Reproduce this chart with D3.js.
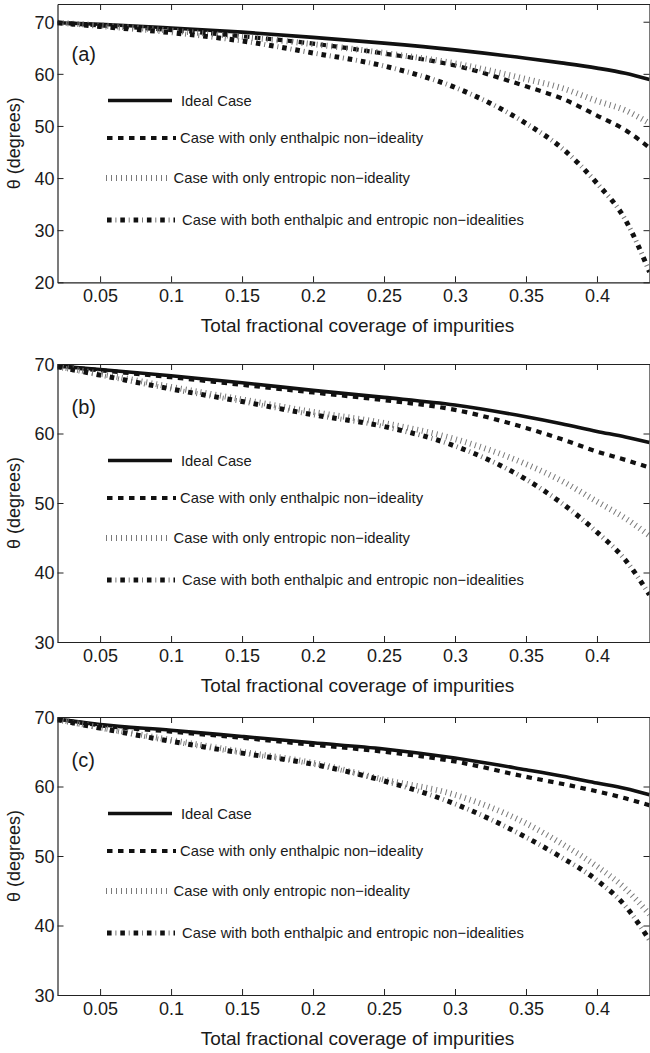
<!DOCTYPE html>
<html>
<head>
<meta charset="utf-8">
<script src="https://cdn.jsdelivr.net/npm/d3@7"></script>
<style>
  html, body { margin: 0; padding: 0; background: #fff; }
  svg { display: block; }
  text { font-family: "Liberation Sans", Arial, Helvetica, sans-serif; fill: #1a1a1a; }
</style>
</head>
<body>
<script>
// ---------------- data ----------------
const xValues = [0.02, 0.05, 0.1, 0.15, 0.2, 0.25, 0.3, 0.35, 0.375, 0.4, 0.42, 0.437];

// panel (a)
const aIdeal     = [69.8, 69.5, 68.8, 68.0, 67.0, 65.9, 64.6, 63.0, 62.1, 61.1, 60.1, 58.9];
const aEnthalpic = [69.8, 69.3, 68.4, 67.2, 65.8, 63.9, 61.6, 57.6, 55.3, 52.0, 49.2, 45.8];
const aEntropic  = [69.8, 69.3, 68.3, 67.1, 65.7, 64.0, 62.0, 59.0, 57.3, 54.8, 53.0, 50.5];
const aBoth      = [69.8, 69.1, 67.9, 66.3, 64.0, 61.5, 57.4, 50.5, 45.8, 39.0, 32.0, 22.0];

// panel (b)
const bIdeal     = [69.7, 69.2, 68.3, 67.3, 66.2, 65.2, 64.1, 62.4, 61.4, 60.3, 59.5, 58.7];
const bEnthalpic = [69.7, 69.1, 68.1, 67.0, 65.9, 64.8, 63.4, 60.8, 59.2, 57.4, 56.2, 55.1];
const bEntropic  = [69.6, 68.6, 66.7, 64.9, 63.1, 61.5, 59.2, 55.6, 53.2, 50.2, 47.8, 45.3];
const bBoth      = [69.6, 68.4, 66.4, 64.6, 62.7, 61.0, 58.2, 53.4, 50.0, 45.8, 41.8, 36.8];

// panel (c)
const cIdeal     = [69.7, 68.9, 68.1, 67.2, 66.3, 65.4, 64.1, 62.4, 61.5, 60.5, 59.7, 58.8];
const cEnthalpic = [69.7, 68.8, 67.9, 67.0, 66.0, 65.0, 63.6, 61.4, 60.4, 59.3, 58.3, 57.3];
const cEntropic  = [69.6, 68.5, 66.7, 65.0, 63.4, 61.0, 58.8, 54.7, 51.8, 48.5, 45.3, 41.6];
const cBoth      = [69.6, 68.4, 66.5, 64.8, 63.2, 60.8, 57.5, 52.7, 49.8, 46.5, 42.8, 37.9];

const seriesNames = [
  "Ideal Case",
  "Case with only enthalpic non\u2212ideality",
  "Case with only entropic non\u2212ideality",
  "Case with both enthalpic and entropic non\u2212idealities"
];
const panelLabels = ["(a)", "(b)", "(c)"];
const xTickValues = [0.05, 0.1, 0.15, 0.2, 0.25, 0.3, 0.35, 0.4];
const xTickLabels = ["0.05", "0.1", "0.15", "0.2", "0.25", "0.3", "0.35", "0.4"];
const yTicksA = [20, 30, 40, 50, 60, 70];
const yTicksBC = [30, 40, 50, 60, 70];
const xTitle = "Total fractional coverage of impurities";
const yTitle = "\u03b8 (degrees)";

// ---------------- layout ----------------
const W = 650, H = 1053;
const xLeft = 57.5, xRight = 649.5;
const xDomain = [0.02, 0.437];

const panels = [
  { label: panelLabels[0], top: 4,   bottom: 282.3, yDomain: [20, 73.4], yTicks: yTicksA,
    data: [aIdeal, aEnthalpic, aEntropic, aBoth], labelY: 53.5 },
  { label: panelLabels[1], top: 364, bottom: 642,   yDomain: [30, 70],   yTicks: yTicksBC,
    data: [bIdeal, bEnthalpic, bEntropic, bBoth], labelY: 407 },
  { label: panelLabels[2], top: 717, bottom: 995,   yDomain: [30, 70],   yTicks: yTicksBC,
    data: [cIdeal, cEnthalpic, cEntropic, cBoth], labelY: 760 }
];

const legendRows = [96.5, 134, 174, 216];       // relative to panel top
const legendLineX = [[108, 172], [107, 176], [106, 171], [107, 175]];
const legendTextX = [181, 180, 173.5, 182];

const svg = d3.select("body").append("svg")
  .attr("width", W).attr("height", H);

const x = d3.scaleLinear().domain(xDomain).range([xLeft, xRight]);

// draws one styled line (possibly two overlaid stroke paths)
function styledPath(g, kind, dAttr) {
  if (kind === 0) {
    g.append("path").attr("d", dAttr).attr("fill", "none")
      .attr("stroke", "#111").attr("stroke-width", 3.6);
  } else if (kind === 1) {
    g.append("path").attr("d", dAttr).attr("fill", "none")
      .attr("stroke", "#111").attr("stroke-width", 4.2)
      .attr("stroke-dasharray", "5.5,5.5");
  } else if (kind === 2) {
    g.append("path").attr("d", dAttr).attr("fill", "none")
      .attr("stroke", "#7a7a7a").attr("stroke-width", 6)
      .attr("stroke-dasharray", "1,4");
  } else {
    g.append("path").attr("d", dAttr).attr("fill", "none")
      .attr("stroke", "#111").attr("stroke-width", 5)
      .attr("stroke-dasharray", "4.6,8.7");
    g.append("path").attr("d", dAttr).attr("fill", "none")
      .attr("stroke", "#777").attr("stroke-width", 5)
      .attr("stroke-dasharray", "0,8.4,1,3.9");
  }
}

panels.forEach((p, pi) => {
  const y = d3.scaleLinear().domain(p.yDomain).range([p.bottom, p.top]);
  const g = svg.append("g");

  const clipId = "clip" + pi;
  svg.append("clipPath").attr("id", clipId).append("rect")
    .attr("x", xLeft).attr("y", p.top)
    .attr("width", xRight - xLeft).attr("height", p.bottom - p.top);

  // curves
  const line = d3.line()
    .x((d, i) => x(xValues[i]))
    .y(d => y(d))
    .curve(d3.curveMonotoneX);
  const cg = g.append("g").attr("clip-path", `url(#${clipId})`);
  p.data.forEach((vals, si) => styledPath(cg, si, line(vals)));

  // axes (inward ticks, MATLAB box)
  const fontAxis = 18;
  const bottomAxis = d3.axisBottom(x).tickValues(xTickValues)
    .tickFormat((d, i) => xTickLabels[i]).tickSizeInner(-6).tickSizeOuter(0).tickPadding(7);
  const topAxis = d3.axisTop(x).tickValues(xTickValues)
    .tickFormat("").tickSizeInner(-6).tickSizeOuter(0);
  const leftAxis = d3.axisLeft(y).tickValues(p.yTicks)
    .tickFormat(d3.format("d")).tickSizeInner(-6).tickSizeOuter(0).tickPadding(3);
  const rightAxis = d3.axisRight(y).tickValues(p.yTicks)
    .tickFormat("").tickSizeInner(-6).tickSizeOuter(0);

  const axes = [
    g.append("g").attr("transform", `translate(0,${p.bottom})`).call(bottomAxis),
    g.append("g").attr("transform", `translate(0,${p.top})`).call(topAxis),
    g.append("g").attr("transform", `translate(${xLeft},0)`).call(leftAxis),
    g.append("g").attr("transform", `translate(${xRight},0)`).call(rightAxis)
  ];
  axes.forEach(a => {
    a.attr("font-family", null).attr("font-size", null);
    a.selectAll("path.domain").attr("stroke", "#222").attr("stroke-width", 1.2);
    a.selectAll(".tick line").attr("stroke", "#222").attr("stroke-width", 1);
    a.selectAll(".tick text").style("font-size", fontAxis + "px").attr("fill", "#1a1a1a");
  });
  axes[2].selectAll(".tick text").attr("dy", "0.36em");

  // axis titles
  g.append("text")
    .attr("x", (xLeft + xRight) / 2 + 4)
    .attr("y", p.bottom + 43)
    .attr("text-anchor", "middle").attr("dominant-baseline", "central")
    .style("font-size", "19px")
    .text(xTitle);
  g.append("text")
    .attr("transform", `translate(14,${(p.top + p.bottom) / 2}) rotate(-90)`)
    .attr("text-anchor", "middle").attr("dominant-baseline", "central")
    .style("font-size", "18px")
    .text(yTitle);

  // panel label
  g.append("text")
    .attr("x", 71.5).attr("y", p.labelY)
    .attr("dominant-baseline", "central")
    .style("font-size", "20px")
    .text(p.label);

  // legend
  seriesNames.forEach((name, si) => {
    const ly = p.top + legendRows[si];
    const lx = legendLineX[si];
    styledPath(g, si, `M${lx[0]},${ly}L${lx[1]},${ly}`);
    g.append("text")
      .attr("x", legendTextX[si]).attr("y", ly)
      .attr("dominant-baseline", "central")
      .style("font-size", "14.8px")
      .text(name);
  });
});
</script>
</body>
</html>
